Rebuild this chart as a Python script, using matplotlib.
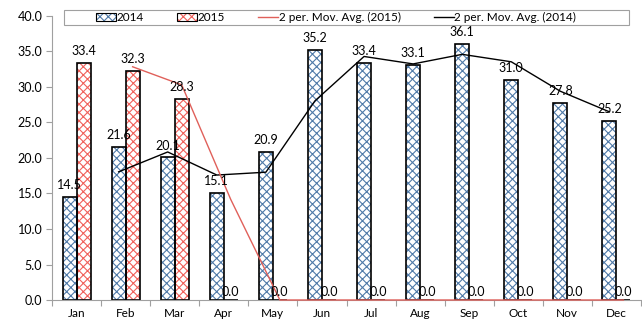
import matplotlib
matplotlib.use("Agg")
import matplotlib.pyplot as plt
import numpy as np
from matplotlib.lines import Line2D
from matplotlib.patches import Patch, Rectangle
from matplotlib.legend_handler import HandlerTuple

months = ["Jan", "Feb", "Mar", "Apr", "May", "Jun", "Jul", "Aug", "Sep", "Oct", "Nov", "Dec"]
vals_2014 = [14.5, 21.6, 20.1, 15.1, 20.9, 35.2, 33.4, 33.1, 36.1, 31.0, 27.8, 25.2]
vals_2015 = [33.4, 32.3, 28.3, 0.0, 0.0, 0.0, 0.0, 0.0, 0.0, 0.0, 0.0, 0.0]
y_ticks = [0, 5, 10, 15, 20, 25, 30, 35, 40]

plt.rcParams["font.family"] = ["Lato", "DejaVu Sans"]
plt.rcParams["hatch.linewidth"] = 0.8

W, H = 642, 323
fig = plt.figure(figsize=(W / 100, H / 100), dpi=100)
ax = fig.add_axes([52 / W, 1 - 300 / H, 589 / W, 284 / H])

x = np.arange(len(months))
w = 0.285
blue = "#4f7aa8"
red = "#f0605a"

ax.bar(x - w / 2, vals_2014, w, facecolor="white", edgecolor=blue, hatch="xxxx", linewidth=0)
ax.bar(x + w / 2, vals_2015, w, facecolor="white", edgecolor=red, hatch="xxxx", linewidth=0)
# black outlines on top of the hatched fills
ax.bar(x - w / 2, vals_2014, w, facecolor="none", edgecolor="black", linewidth=1.2)
ax.bar(x + w / 2, vals_2015, w, facecolor="none", edgecolor="black", linewidth=1.2)

# two-period moving averages, drawn at each series' bar positions
v14 = np.array(vals_2014)
v15 = np.array(vals_2015)
ma14 = (v14[1:] + v14[:-1]) / 2
ma15 = (v15[1:] + v15[:-1]) / 2
ax.plot(x[1:] - w / 2, ma14, color="black", lw=1.0, zorder=4)
ax.plot(x[1:] + w / 2, ma15, color="#e0605a", lw=1.0, zorder=4, clip_on=False)

lab_fs = 9
for xi, v in zip(x, vals_2014):
    ax.text(xi - w / 2, v + 0.8, f"{v:.1f}", ha="center", va="bottom", fontsize=lab_fs, zorder=5)
for xi, v in zip(x, vals_2015):
    ax.text(xi + w / 2, v + 0.8 if v > 0 else 0.3, f"{v:.1f}", ha="center", va="bottom",
            fontsize=lab_fs, zorder=5)

ax.set_xlim(-0.5, len(months) - 0.5)
ax.set_ylim(0, 40)
ax.set_yticks(y_ticks)
ax.set_yticklabels([f"{t:.1f}" for t in y_ticks], fontsize=9)
ax.set_xticks(x)
ax.set_xticklabels(months, fontsize=8.5)
ax.set_xticks(np.arange(-0.5, len(months)), minor=True)
ax.tick_params(axis="x", which="major", length=0, pad=6)
ax.tick_params(axis="x", which="minor", length=4, color="#a0a0a0", width=0.8)
ax.tick_params(axis="y", length=4, color="#a0a0a0", width=0.8, pad=3)
for s in ["top", "right"]:
    ax.spines[s].set_visible(False)
for s in ["left", "bottom"]:
    ax.spines[s].set_color("#a0a0a0")
    ax.spines[s].set_linewidth(0.8)

# legend frame
fig.patches.append(Rectangle((64 / W, 1 - 25 / H), 565 / W, 15.5 / H, transform=fig.transFigure,
                             facecolor="white", edgecolor="#a0a0a0", linewidth=0.8, zorder=10))

def swatch(color):
    return (Patch(facecolor="white", edgecolor=color, hatch="xxxx", linewidth=0),
            Patch(facecolor="none", edgecolor="black", linewidth=0.8))

handles = [
    swatch(blue),
    swatch(red),
    Line2D([], [], color="#e0605a", lw=1.0),
    Line2D([], [], color="black", lw=1.0),
]
labels = ["2014", "2015", "2 per. Mov. Avg. (2015)", "2 per. Mov. Avg. (2014)"]
leg = fig.legend(handles, labels, loc="center", bbox_to_anchor=(336 / W, 1 - 17.5 / H),
                 ncol=4, fontsize=8.5, frameon=False, columnspacing=2.8,
                 handlelength=1.7, handletextpad=0.05, borderpad=0.1, handleheight=0.7,
                 handler_map={tuple: HandlerTuple(ndivide=1, pad=0)})
leg.set_zorder(11)

fig.savefig("out.png", dpi=100)
